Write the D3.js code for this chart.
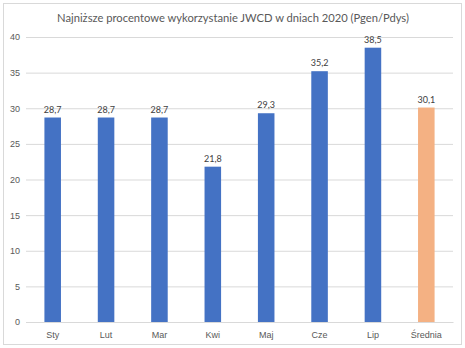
<!DOCTYPE html>
<html>
<head>
<meta charset="utf-8">
<script src="https://cdn.jsdelivr.net/npm/d3@7"></script>
<style>
  html, body { margin: 0; padding: 0; background: #fff; }
  svg { display: block; font-family: Lato, "Open Sans", sans-serif; }
</style>
</head>
<body>
<svg id="chart" width="465" height="348"></svg>
<script>
// Monthly minimum utilisation figures plus the average
const categories = ["Sty", "Lut", "Mar", "Kwi", "Maj", "Cze", "Lip", "Średnia"];
const values = [28.7, 28.7, 28.7, 21.8, 29.3, 35.2, 38.5, 30.1];
const yTicks = [0, 5, 10, 15, 20, 25, 30, 35, 40];
const title = "Najniższe procentowe wykorzystanie JWCD w dniach 2020 (Pgen/Pdys)";

const svg = d3.select("#chart");
const W = 465, H = 348;

// outer frame
svg.append("rect")
  .attr("x", 3.5).attr("y", 3.5)
  .attr("width", W - 7).attr("height", H - 7)
  .attr("fill", "#fff").attr("stroke", "#d9d9d9");

const plot = { left: 26, right: 453, top: 37, bottom: 322 };

const x = d3.scaleBand()
  .domain(categories)
  .range([plot.left, plot.right])
  .paddingInner(0.69)
  .paddingOuter(0.345);

const y = d3.scaleLinear()
  .domain([0, 40])
  .range([plot.bottom, plot.top]);

// gridlines + y labels
const yAxis = d3.axisLeft(y)
  .tickValues(yTicks)
  .tickSize(-(plot.right - plot.left))
  .tickPadding(6)
  .tickFormat(d3.format("d"));

const gy = svg.append("g")
  .attr("transform", `translate(${plot.left},0)`)
  .call(yAxis);
gy.select(".domain").remove();
gy.selectAll(".tick line").attr("stroke", "#d9d9d9").attr("stroke-width", 1);
gy.selectAll(".tick text")
  .attr("fill", "#595959").attr("font-size", 9);

// bars
svg.append("g").selectAll("rect")
  .data(values)
  .join("rect")
  .attr("x", (d, i) => x(categories[i]))
  .attr("y", d => y(d))
  .attr("width", x.bandwidth())
  .attr("height", d => y(0) - y(d))
  .attr("fill", (d, i) => i === categories.length - 1 ? "#F4B183" : "#4472C4");

// value labels
const fmt = v => v.toFixed(1).replace(".", ",");
svg.append("g").selectAll("text")
  .data(values)
  .join("text")
  .attr("x", (d, i) => x(categories[i]) + x.bandwidth() / 2)
  .attr("y", d => y(d) - 5)
  .attr("text-anchor", "middle")
  .attr("font-size", 9)
  .attr("fill", "#404040")
  .text(fmt);

// x axis
const gx = svg.append("g")
  .attr("transform", `translate(0,${plot.bottom})`)
  .call(d3.axisBottom(x).tickSize(0).tickPadding(10));
gx.select(".domain").attr("stroke", "#d9d9d9");
gx.selectAll(".tick text").attr("fill", "#595959").attr("font-size", 9);

// title
svg.append("text")
  .attr("x", 233)
  .attr("y", 22)
  .attr("text-anchor", "middle")
  .attr("font-size", 11.2)
  .attr("fill", "#595959")
  .text(title);
</script>
</body>
</html>
